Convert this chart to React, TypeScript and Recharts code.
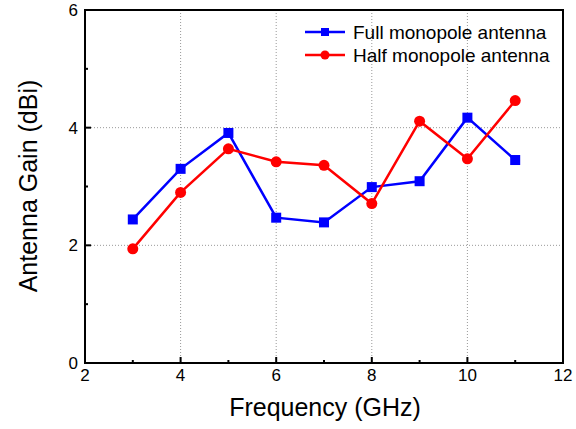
import { LineChart, Line, XAxis, YAxis, CartesianGrid, ReferenceArea } from "recharts";

const frequency = [3, 4, 5, 6, 7, 8, 9, 10, 11];
const fullGain = [2.44, 3.3, 3.91, 2.47, 2.39, 2.99, 3.09, 4.17, 3.45];
const halfGain = [1.94, 2.9, 3.64, 3.42, 3.36, 2.71, 4.11, 3.47, 4.46];
const xTicks = [2, 3, 4, 5, 6, 7, 8, 9, 10, 11, 12];
const yTicks = [0, 1, 2, 3, 4, 5, 6];
const xGrid = [4, 6, 8, 10];
const yGrid = [2, 4];
const seriesNames = ["Full monopole antenna", "Half monopole antenna"];

const data = frequency.map((f, i) => ({ f, full: fullGain[i], half: halfGain[i] }));

const FONT = "'Liberation Sans', Arial, sans-serif";
const BLUE = "#0000ff";
const RED = "#ff0000";

function XTick({ x, y, payload }: any) {
  const major = payload.value % 2 === 0;
  return (
    <g>
      <line x1={x} x2={x} y1={y} y2={y - (major ? 6 : 3)} stroke="#000" strokeWidth={2} />
      {major && (
        <text x={x} y={y + 18} textAnchor="middle" fontSize={17} fontFamily={FONT} fill="#000">
          {payload.value}
        </text>
      )}
    </g>
  );
}

function YTick({ x, y, payload }: any) {
  const major = payload.value % 2 === 0;
  return (
    <g>
      <line x1={x} x2={x + (major ? 6 : 3)} y1={y} y2={y} stroke="#000" strokeWidth={2} />
      {major && (
        <text x={x - 7} y={y + 6} textAnchor="end" fontSize={17} fontFamily={FONT} fill="#000">
          {payload.value}
        </text>
      )}
    </g>
  );
}

function Square({ cx, cy, index }: any) {
  return <rect key={`sq-${index}`} x={cx - 5} y={cy - 5} width={10} height={10} fill={BLUE} />;
}

function Circle({ cx, cy, index }: any) {
  return <circle key={`ci-${index}`} cx={cx} cy={cy} r={5.5} fill={RED} />;
}

function LegendBox() {
  return (
    <svg width={260} height={50} style={{ position: "absolute", left: 303, top: 20 }}>
      <line x1={2} x2={42} y1={12} y2={12} stroke={BLUE} strokeWidth={2.5} />
      <rect x={18} y={8} width={8} height={8} fill={BLUE} />
      <text x={50} y={19} fontSize={19} fontFamily={FONT} fill="#000">{seriesNames[0]}</text>
      <line x1={2} x2={42} y1={35} y2={35} stroke={RED} strokeWidth={2.5} />
      <circle cx={22} cy={35} r={4.5} fill={RED} />
      <text x={50} y={42} fontSize={19} fontFamily={FONT} fill="#000">{seriesNames[1]}</text>
    </svg>
  );
}

export default function App() {
  return (
    <div style={{ position: "absolute", left: 0, top: 0, width: 576, height: 429, background: "#fff" }}>
      <LineChart width={576} height={429} data={data} margin={{ top: 10, right: 13, left: 0, bottom: 0 }}>
        <CartesianGrid
          stroke="#999"
          strokeDasharray="1 2"
          verticalValues={xGrid}
          horizontalValues={yGrid}
        />
        <XAxis
          dataKey="f"
          type="number"
          domain={[2, 12]}
          ticks={xTicks}
          height={66}
          tickSize={0}
          tickMargin={0}
          tickLine={false}
          axisLine={{ stroke: "#000", strokeWidth: 2 }}
          tick={<XTick />}
          interval={0}
          label={() => (
            <text x={325} y={416} textAnchor="middle" fontSize={25} fontFamily={FONT} fill="#000">
              Frequency (GHz)
            </text>
          )}
        />
        <YAxis
          type="number"
          domain={[0, 6]}
          ticks={yTicks}
          width={85}
          tickSize={0}
          tickMargin={0}
          tickLine={false}
          axisLine={{ stroke: "#000", strokeWidth: 2 }}
          tick={<YTick />}
          interval={0}
          label={() => (
            <text
              x={37}
              y={186}
              transform="rotate(-90 37 186)"
              textAnchor="middle"
              fontSize={25}
              fontFamily={FONT}
              fill="#000"
            >
              Antenna Gain (dBi)
            </text>
          )}
        />
        <ReferenceArea x1={2} x2={12} y1={0} y2={6} fill="none" stroke="#000" strokeWidth={2} />
        <Line
          dataKey="full"
          name={seriesNames[0]}
          stroke={BLUE}
          strokeWidth={2.5}
          dot={Square}
          isAnimationActive={false}
        />
        <Line
          dataKey="half"
          name={seriesNames[1]}
          stroke={RED}
          strokeWidth={2.5}
          dot={Circle}
          isAnimationActive={false}
        />
      </LineChart>
      <LegendBox />
    </div>
  );
}
